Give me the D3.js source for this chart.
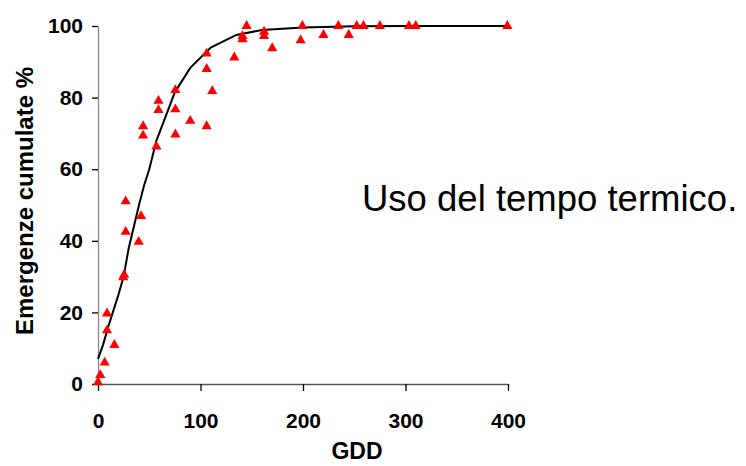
<!DOCTYPE html>
<meta charset="utf-8">
<script src="https://d3js.org/d3.v7.min.js"></script>
<style>
  body { margin: 0; background: #fff; }
  svg text { font-family: "Liberation Sans", Arial, sans-serif; }
</style>
<div id="chart"></div>
<script>
  // observed points: GDD and cumulative emergence %
  const obsGdd = [0, 2.2, 6.5, 8.8, 8.8, 16, 24.7, 25.5, 27, 27, 39.7, 42, 44, 44, 57, 59, 59,
                  75.5, 75.5, 75.5, 90, 106, 106, 106, 111.5, 133, 141, 141, 145, 162, 162, 170,
                  197.7, 199.4, 220, 234.5, 244.6, 252.4, 259, 275, 303.4, 310, 399.4];
  const obsEmerg = [0.5, 2.5, 6, 15, 19.7, 10.9, 29.8, 30.5, 42.5, 51, 39.7, 46.9, 69.4, 72, 66.3, 76.5, 79.1,
                    69.7, 76.7, 82.1, 73.5, 72, 88, 92.3, 81.8, 91.2, 96.3, 97.2, 100, 97.2, 98.4, 93.8,
                    96, 100, 97.5, 100, 97.5, 100, 100, 100, 100, 100, 100];

  // fitted curve
  const fitGdd = [0, 5, 10, 15, 20, 25, 30, 35, 40, 45, 50, 57, 65, 75, 90, 110, 135, 160, 200, 250, 300, 400];
  const fitEmerg = [7, 11, 16, 20.5, 25, 30, 38, 44, 50, 55.5, 60, 68, 74, 81.5, 88.3, 94, 97.5, 98.9, 99.6, 99.9, 100, 100];

  const xTicks = [0, 100, 200, 300, 400];
  const yTicks = [0, 20, 40, 60, 80, 100];

  const width = 746, height = 466;

  const svg = d3.select("#chart")
    .append("svg")
      .attr("width", width)
      .attr("height", height);

  const x = d3.scaleLinear().domain([0, 400]).range([98, 508]);
  const y = d3.scaleLinear().domain([0, 100]).range([384, 26]);

  // X axis
  const gx = svg.append("g")
    .attr("transform", `translate(0,${y(0)})`)
    .call(d3.axisBottom(x).tickValues(xTicks).tickSize(7).tickSizeOuter(0).tickPadding(22));
  gx.select(".domain").attr("stroke", "#555").attr("stroke-width", 1.3);
  gx.selectAll(".tick line").attr("stroke", "#000").attr("stroke-width", 1.3);
  gx.selectAll(".tick text")
    .attr("fill", "#000")
    .style("font-size", "21px")
    .style("font-weight", "bold");

  // Y axis
  const gy = svg.append("g")
    .attr("transform", `translate(${x(0)},0)`)
    .call(d3.axisLeft(y).tickValues(yTicks).tickSize(6).tickSizeOuter(0).tickPadding(9));
  gy.select(".domain").attr("stroke", "#888").attr("stroke-width", 1.3);
  gy.selectAll(".tick line").attr("stroke", "#000").attr("stroke-width", 1.3);
  gy.selectAll(".tick text")
    .attr("fill", "#000")
    .style("font-size", "21px")
    .style("font-weight", "bold");

  // axis titles
  svg.append("text")
    .attr("x", 357)
    .attr("y", 459)
    .attr("text-anchor", "middle")
    .style("font-size", "23px")
    .style("font-weight", "bold")
    .text("GDD");

  svg.append("text")
    .attr("transform", `translate(33,201) rotate(-90)`)
    .attr("text-anchor", "middle")
    .style("font-size", "24px")
    .style("font-weight", "bold")
    .text("Emergenze cumulate %");

  // fitted curve
  const fit = fitGdd.map((g, i) => ({ g: g, e: fitEmerg[i] }));
  svg.append("path")
    .datum(fit)
    .attr("fill", "none")
    .attr("stroke", "#000")
    .attr("stroke-width", 2)
    .attr("d", d3.line().x(d => x(d.g)).y(d => y(d.e)));

  // observed points
  const obs = obsGdd.map((g, i) => ({ g: g, e: obsEmerg[i] }));
  svg.selectAll(".pt")
    .data(obs)
    .join("path")
      .attr("class", "pt")
      .attr("transform", d => `translate(${x(d.g)},${y(d.e)})`)
      .attr("d", d3.symbol().type(d3.symbolTriangle).size(45))
      .attr("fill", "#ff0000");

  // annotation
  svg.append("text")
    .attr("x", 362)
    .attr("y", 211)
    .style("font-size", "36.5px")
    .attr("fill", "#000")
    .text("Uso del tempo termico.");
</script>
